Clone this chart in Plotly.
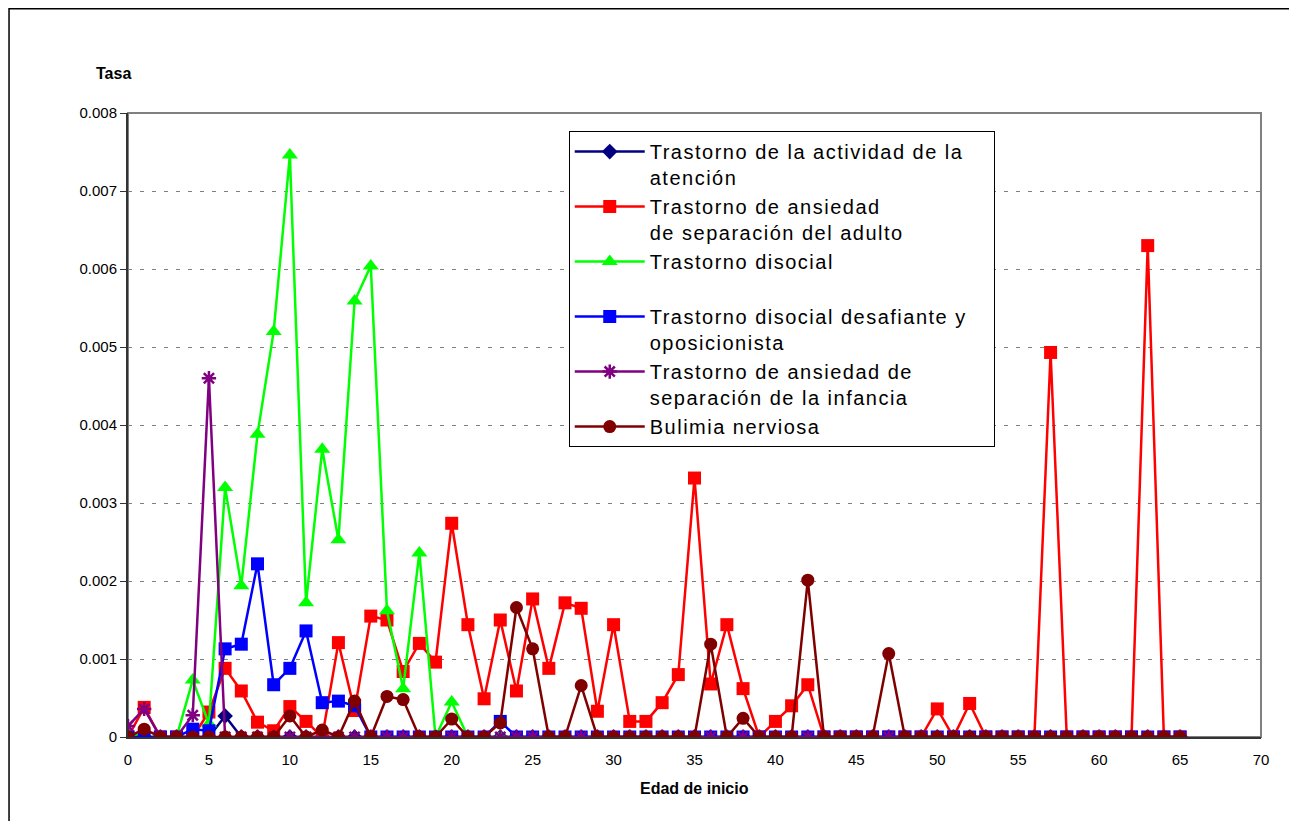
import plotly.graph_objects as go

edad = list(range(0, 66))

# Tasa por edad de inicio (0..65)
atencion = [0, 0, 0, 0, 0, 0, 0.00027] + [0] * 59

ansiedad_adulto = [
    0, 0.00038, 0, 0, 0, 0.00032, 0.00088, 0.00059, 0.00019, 0.00008,
    0.00039, 0.0002, 0, 0.00121, 0.00034, 0.00155, 0.0015, 0.00084, 0.0012, 0.00096,
    0.00274, 0.00144, 0.00049, 0.0015, 0.00059, 0.00177, 0.00088, 0.00172, 0.00165, 0.00033,
    0.00144, 0.0002, 0.0002, 0.00044, 0.0008, 0.00332, 0.00068, 0.00144, 0.00062, 0,
    0.0002, 0.0004, 0.00067, 0, 0, 0, 0, 0, 0, 0,
    0.00036, 0, 0.00043, 0, 0, 0, 0, 0.00493, 0, 0,
    0, 0, 0, 0.0063, 0, 0,
]

disocial = [
    0.00005, 0, 0, 0, 0.00073, 0.00017, 0.0032, 0.00194, 0.00388, 0.0052,
    0.00746, 0.00172, 0.00369, 0.00253, 0.00559, 0.00604, 0.00162, 0.00062, 0.00236, 0,
    0.00045,
] + [0] * 45

desafiante = [
    0, 0, 0, 0, 0.0001, 0.00008, 0.00113, 0.00119, 0.00222, 0.00067,
    0.00088, 0.00136, 0.00044, 0.00046, 0.0004, 0, 0, 0, 0, 0,
    0, 0, 0, 0.0002,
] + [0] * 42

ansiedad_infancia = [0.00014, 0.00036, 0, 0, 0.00028, 0.0046] + [0] * 60

bulimia = [
    0, 0.0001, 0, 0, 0, 0, 0, 0, 0, 0,
    0.00027, 0, 0.00009, 0, 0.00046, 0, 0.00052, 0.00048, 0, 0,
    0.00023, 0, 0, 0.00018, 0.00166, 0.00113, 0, 0, 0.00066, 0,
    0, 0, 0, 0, 0, 0, 0.00119, 0, 0.00024, 0,
    0, 0, 0.00201, 0, 0, 0, 0, 0.00107, 0, 0,
] + [0] * 16

y_ticks = [0, 0.001, 0.002, 0.003, 0.004, 0.005, 0.006, 0.007, 0.008]
y_labels = ["0", "0.001", "0.002", "0.003", "0.004", "0.005", "0.006", "0.007", "0.008"]

sp = '<span style="letter-spacing:1.5px">'
series = [
    (sp + "Trastorno de la actividad de la<br>atención</span>", atencion, "#000080", "diamond", 12),
    (sp + "Trastorno de ansiedad<br>de separación del adulto</span>", ansiedad_adulto, "#FF0000", "square", 13),
    (sp + "Trastorno disocial</span><br>\u00a0", disocial, "#00FF00", "triangle-up", 14),
    (sp + "Trastorno disocial desafiante y\u00a0\u00a0\u00a0<br>oposicionista</span>", desafiante, "#0000FF", "square", 13),
    (sp + "Trastorno de ansiedad de<br>separación de la infancia</span>", ansiedad_infancia, "#800080", "asterisk-open", 12),
    (sp + "Bulimia nerviosa</span>", bulimia, "#800000", "circle", 13),
]

fig = go.Figure()
for name, vals, color, symbol, size in series:
    fig.add_trace(go.Scatter(
        x=edad, y=vals, name=name, mode="lines+markers",
        line=dict(color=color, width=2.5),
        marker=dict(color=color, symbol=symbol, size=size,
                    line=dict(color=color, width=2.5 if symbol == "asterisk-open" else 0)),
    ))

fig.update_layout(
    width=1297, height=821,
    margin=dict(l=120, r=44, t=105, b=92),
    paper_bgcolor="white", plot_bgcolor="white",
    font=dict(family="Arial, Liberation Sans, sans-serif", size=15, color="black"),
    showlegend=True,
    legend=dict(
        x=0.389, y=0.971, xanchor="left", yanchor="top",
        bgcolor="white", bordercolor="black", borderwidth=1,
        font=dict(size=20), valign="top", tracegroupgap=0,
        itemwidth=70,
    ),
    shapes=[
        dict(type="rect", xref="paper", yref="paper", x0=0, x1=1, y0=0, y1=1,
             line=dict(color="#808080", width=2), layer="below"),
        dict(type="rect", xref="paper", yref="paper", x0=-0.105, x1=1.05, y0=-0.2, y1=1.167,
             line=dict(color="black", width=1.5), layer="below"),
    ],
    annotations=[
        dict(text="<b>Tasa</b>", xref="paper", yref="paper", x=-0.013, y=1.064,
             showarrow=False, xanchor="center", yanchor="middle", font=dict(size=16)),
        dict(text="<b>Edad de inicio</b>", xref="paper", yref="paper", x=0.5, y=-0.082,
             showarrow=False, xanchor="center", yanchor="middle", font=dict(size=16)),
    ],
)

fig.update_xaxes(
    range=[0, 70], dtick=5, tick0=0, showgrid=False, zeroline=False,
    showline=True, linecolor="#333333", linewidth=2,
    ticks="outside", ticklen=8, tickcolor="rgba(0,0,0,0)",
)
fig.update_yaxes(
    range=[0, 0.008], tickmode="array", tickvals=y_ticks, ticktext=y_labels,
    showgrid=True, gridcolor="#808080", griddash="4px,8px", gridwidth=1, zeroline=False,
    showline=True, linecolor="#333333", linewidth=2, ticks="outside", ticklen=6,
    tickcolor="#333333",
)

fig.write_html("out.html")
